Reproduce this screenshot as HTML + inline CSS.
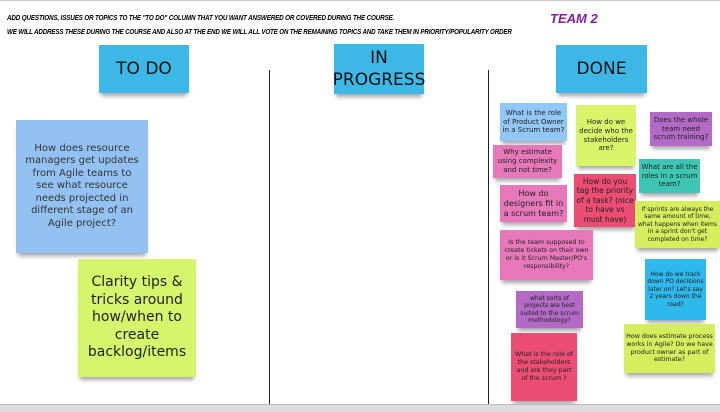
<!DOCTYPE html>
<html><head><meta charset="utf-8"><style>
body{margin:0;width:720px;height:411px;background:#fff;position:relative;overflow:hidden;font-family:"DejaVu Sans","Liberation Sans",sans-serif;}
.n{position:absolute;display:flex;align-items:center;justify-content:center;text-align:center;color:#222;box-shadow:0 5px 4px -2px rgba(0,0,0,.35);box-sizing:border-box;padding:2px;line-height:1.25;}
.h{background:#3db8e6;font-size:17px;color:#111;line-height:1.3}
.s{font-size:6.3px}
.top{position:absolute;left:7px;font-weight:bold;font-style:italic;font-size:7.6px;white-space:nowrap;transform-origin:0 0;font-family:"Liberation Sans",sans-serif;letter-spacing:-.2px}
.vl{position:absolute;width:1px;background:#222;top:70px;height:341px}
</style></head><body>
<div style="position:absolute;left:0;right:0;top:0;height:1px;background:#ccc"></div>
<div class="top" style="top:13px;transform:scaleX(.83)">ADD QUESTIONS, ISSUES OR TOPICS TO THE "TO DO" COLUMN THAT YOU WANT ANSWERED OR COVERED DURING THE COURSE.</div>
<div class="top" style="top:27px;transform:scaleX(.82)">WE WILL ADDRESS THESE DURING THE COURSE AND ALSO AT THE END WE WILL ALL VOTE ON THE REMAINING TOPICS AND TAKE THEM IN PRIORITY/POPULARITY ORDER</div>
<div style="position:absolute;left:550px;top:11px;color:#8a1aa8;font-weight:bold;font-size:13px;font-style:italic;font-family:'Liberation Sans',sans-serif">TEAM 2</div>
<div class="vl" style="left:269px"></div>
<div class="vl" style="left:488px"></div>
<div class="n h" style="left:99px;top:45px;width:90px;height:48px">TO DO</div>
<div class="n h" style="left:334px;top:44px;width:90px;height:50px">IN<br>PROGRESS</div>
<div class="n h" style="left:556px;top:45px;width:91px;height:48px">DONE</div>
<div class="n" style="left:16px;top:120px;width:132px;height:133px;background:#93c2f2;font-size:10px;color:#333;padding:0 8px">How does resource managers get updates from Agile teams to see what resource needs projected in different stage of an Agile project?</div>
<div class="n" style="left:78px;top:259px;width:118px;height:118px;background:#d5f56c;font-size:14px">Clarity tips &amp; tricks around how/when to create backlog/items</div>
<div class="n s" style="left:500px;top:103px;width:67px;height:38px;background:#93c7f5;font-size:7px">What is the role of Product Owner in a Scrum team?</div>
<div class="n s" style="left:576px;top:105px;width:60px;height:61px;background:#d8f56a;font-size:7px">How do we decide who the stakeholders are?</div>
<div class="n s" style="left:650px;top:112px;width:62px;height:34px;background:#b26ac6;font-size:7px">Does the whole team need scrum training?</div>
<div class="n s" style="left:493px;top:145px;width:69px;height:33px;background:#e778ba;font-size:7px">Why estimate using complexity and not time?</div>
<div class="n s" style="left:639px;top:159px;width:61px;height:34px;background:#3ec6b5;font-size:7px">What are all the roles in a scrum team?</div>
<div class="n s" style="left:500px;top:185px;width:67px;height:37px;background:#e778ba;font-size:8px">How do designers fit in a scrum team?</div>
<div class="n s" style="left:574px;top:174px;width:62px;height:53px;background:#ec4d74;font-size:7.5px">How do you tag the priority of a task? (nice to have vs must have)</div>
<div class="n s" style="left:635px;top:201px;width:85px;height:47px;background:#d5ee5e;font-size:6px">If sprints are always the same amount of time, what happens when items in a sprint don't get completed on time?</div>
<div class="n s" style="left:500px;top:230px;width:93px;height:50px;background:#e778ba">Is the team supposed to create tickets on their own or is it Scrum Master/PO's responsibility?</div>
<div class="n s" style="left:516px;top:291px;width:67px;height:37px;background:#b26ac6;font-size:6px">what sorts of projects are best suited to the scrum methodology?</div>
<div class="n s" style="left:511px;top:333px;width:66px;height:68px;background:#ec4d74">What is the role of the stakeholders and are they part of the scrum ?</div>
<div class="n s" style="left:645px;top:259px;width:61px;height:61px;background:#2fb8ec;font-size:6px">How do we track down PO decisions later on? Let's say 2 years down the road?</div>
<div class="n s" style="left:624px;top:324px;width:91px;height:49px;background:#d5ee5e">How does estimate process works in Agile? Do we have product owner as part of estimate?</div>
<div style="position:absolute;left:0;right:0;top:404px;height:7px;background:#ddd;border-top:1px solid #bbb"></div>
</body></html>
